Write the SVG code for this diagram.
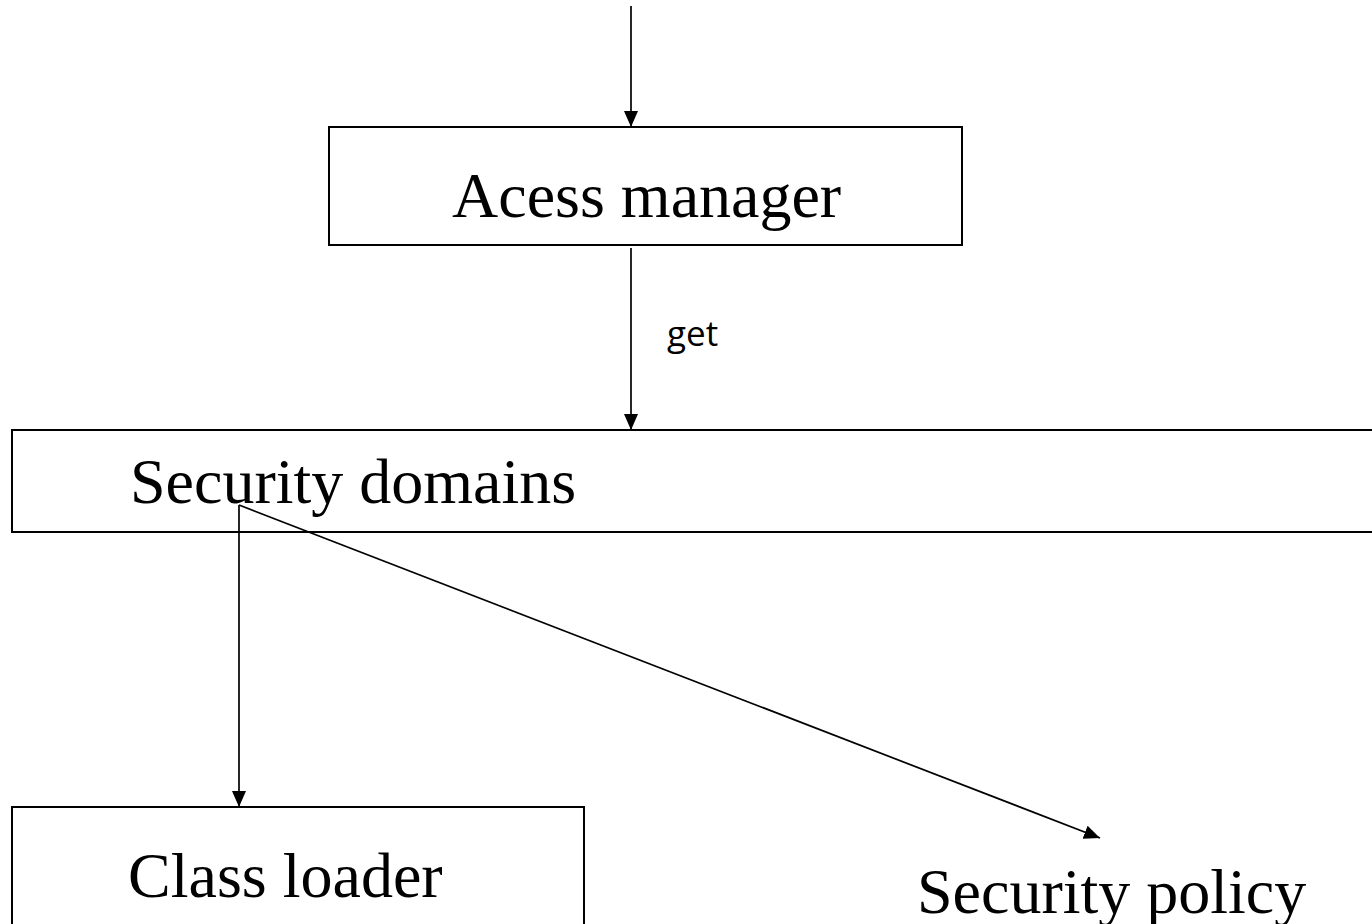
<svg xmlns="http://www.w3.org/2000/svg" width="1372" height="924" viewBox="0 0 1372 924">
<style>
.box{fill:#fff;stroke:#000;stroke-width:2}
.t{font-family:"Liberation Serif","Times New Roman",serif;font-size:64px;fill:#000}
.lbl{font-family:"Open Sans","Noto Sans",sans-serif;font-size:35px;fill:#000}
.c{stroke:#000;stroke-width:1.7;fill:none;marker-end:url(#ah)}
</style>
<defs>
<marker id="ah" markerUnits="userSpaceOnUse" markerWidth="16" markerHeight="16" viewBox="0 0 16 16" refX="16" refY="8" orient="auto">
<path d="M0,1 L16,8 L0,15 Z" fill="#000"/>
</marker>
</defs>
<rect width="1372" height="924" fill="#fff"/>
<g id="access-manager">
<rect class="box" x="329" y="127" width="633" height="118"/>
<text class="t" x="452" y="217">Acess manager</text>
</g>
<g id="security-domains">
<rect class="box" x="12" y="430" width="1380" height="102"/>
<text class="t" x="130" y="503">Security domains</text>
</g>
<g id="class-loader">
<rect class="box" x="12" y="807" width="572" height="140"/>
<text class="t" x="128" y="897">Class loader</text>
</g>
<g id="security-policy">
<text class="t" x="917" y="913">Security policy</text>
</g>
<g id="connectors">
<line class="c" x1="631" y1="6" x2="631" y2="127"/>
<line class="c" x1="631" y1="248" x2="631" y2="430"/>
<text class="lbl" x="667" y="346">get</text>
<line class="c" x1="239" y1="505" x2="239" y2="807"/>
<line class="c" x1="239" y1="505" x2="1100" y2="838"/>
</g>
</svg>
